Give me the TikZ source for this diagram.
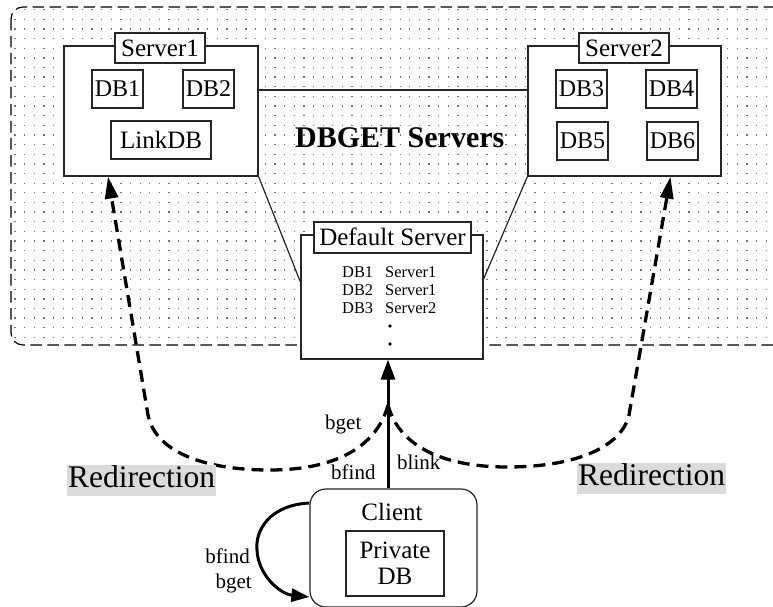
\documentclass[tikz,border=0pt]{standalone}
\usepackage{fontspec}
\setmainfont{Liberation Serif}
\usetikzlibrary{arrows.meta,calc}
\begin{document}
\begin{tikzpicture}[x=1pt,y=-1pt,
  thinline/.style={line width=1.2pt, draw=black!85},
  box/.style={draw=black!85, line width=1.2pt, fill=white, inner sep=0pt,
    text height=16.5pt, text depth=0pt, font=\fontsize{25}{30}\selectfont},
  dbbox/.style={box, text height=15.9pt, font=\fontsize{24}{29}\selectfont},
  lbl/.style={inner sep=0pt, font=\fontsize{21}{24}\selectfont},
  small/.style={inner sep=0pt, font=\fontsize{16.4}{18}\selectfont},
  redir/.style={fill=black!14, inner xsep=1pt, inner ysep=0pt, text height=22pt,
    text depth=9pt, font=\fontsize{31.5}{36}\selectfont},
  dasharrow/.style={line width=3.3pt, dash pattern=on 12pt off 7pt,
    -{Triangle[length=22pt,width=13pt]}},
  solidarrow/.style={line width=3pt, -{Triangle[length=20pt,width=14pt]}},
  looparrow/.style={line width=3pt, -{Triangle[length=18pt,width=13pt]}}
]
\clip (0,0) rectangle (773,607);
% dotted background area
\begin{scope}
  \clip[rounded corners=12pt] (11,7) rectangle (800,345);
  \foreach \r in {0,...,34}
    \draw[black!55, line width=1.3pt, dash pattern=on 1.3pt off 8.33pt]
      (14.35,{9.66+9.64*\r}) -- (780,{9.66+9.64*\r});
\end{scope}
\draw[line width=1.2pt, dash pattern=on 11.5pt off 5.5pt, rounded corners=12pt]
  (11,7) rectangle (800,345);

% Server1
\node[box, minimum width=194pt, minimum height=130pt] (s1) at (161,111) {};
\node[box, minimum width=90pt, minimum height=30pt] (s1lbl) at (160,48) {Server1};
\node[dbbox, minimum width=51pt, minimum height=38pt] (db1) at (117.5,89) {DB1};
\node[dbbox, minimum width=51pt, minimum height=38pt] (db2) at (208.5,89) {DB2};
\node[box, minimum width=100pt, minimum height=38pt] (linkdb) at (161,140) {LinkDB};

% Server2
\node[box, minimum width=193pt, minimum height=130pt] (s2) at (624.5,111) {};
\node[box, minimum width=90pt, minimum height=30pt] (s2lbl) at (624,48) {Server2};
\node[dbbox, minimum width=51pt, minimum height=38pt] (db3) at (581.5,89) {DB3};
\node[dbbox, minimum width=51pt, minimum height=38pt] (db4) at (671.5,89) {DB4};
\node[dbbox, minimum width=51pt, minimum height=38pt] (db5) at (582.5,141) {DB5};
\node[dbbox, minimum width=51pt, minimum height=38pt] (db6) at (672.5,141) {DB6};

\draw[thinline] ([yshift=21pt]s1.east) -- ([yshift=21pt]s2.west);

\node[anchor=base west, inner sep=0pt, font=\bfseries\fontsize{30}{36}\selectfont]
  (title) at (295,147) {DBGET Servers};

% Default server
\node[box, minimum width=182pt, minimum height=124pt] (def) at (392,297) {};
\node[box, minimum width=157pt, minimum height=31pt] (deflbl) at (392.5,237.5) {Default Server};
\draw[thinline] (s1.south east) -- ([yshift=15pt]def.west);
\draw[thinline] (s2.south west) -- ([yshift=18pt]def.east);
\node[small, anchor=base west] (r1a) at (342,277) {DB1};
\node[small, anchor=base west] (r1b) at (385,277) {Server1};
\node[small, anchor=base west] (r2a) at (342,295.5) {DB2};
\node[small, anchor=base west] (r2b) at (385,295.5) {Server1};
\node[small, anchor=base west] (r3a) at (342,313.5) {DB3};
\node[small, anchor=base west] (r3b) at (385,313.5) {Server2};
\fill (390,326) circle (1.8pt);
\fill (390,344) circle (1.8pt);

% Client
\node[draw=black!85, line width=1.2pt, rounded corners=16pt, fill=white,
  minimum width=167pt, minimum height=118pt, inner sep=0pt] (client) at (393.5,548) {};
\node[anchor=base, inner sep=0pt, font=\fontsize{25}{30}\selectfont] (clienttxt) at (392,520) {Client};
\node[box, minimum width=98pt, minimum height=65pt, align=center, text height=42.5pt,
  text depth=0pt, font=\fontsize{25}{26}\selectfont] (priv) at (395,563.5) {Private\\DB};

% arrows
\draw[solidarrow] ([xshift=-5.5pt]client.north) -- ([xshift=-4pt]def.south);
\coordinate (fork) at (388,405);
\draw[dasharrow] (fork) .. controls (376,450) and (330,470) .. (270,470)
  .. controls (200,470) and (155,450) .. (148,415) -- ([xshift=-53pt]s1.south);
\draw[dasharrow] (fork) .. controls (400,450) and (450,467) .. (507,467)
  .. controls (580,467) and (622,445) .. (629,415) -- ([xshift=46pt]s2.south);
\draw[looparrow] ([yshift=45pt]client.west) .. controls (270,505) and (255,530) .. (257,550)
  .. controls (258,575) and (280,594) .. ([yshift=-49pt]client.west);

% labels
\node[lbl, anchor=base west] (lbget) at (325,429) {bget};
\node[lbl, anchor=base west] (lbfind) at (331,479) {bfind};
\node[lbl, anchor=base west] (lblink) at (397,469) {blink};
\node[lbl, anchor=base east] (loopfind) at (250,563) {bfind};
\node[lbl, anchor=base east] (loopget) at (252,588) {bget};
\node[redir, anchor=north west] (redl) at (67,465) {Redirection};
\node[redir, anchor=north west] (redr) at (577,463) {Redirection};
\end{tikzpicture}
\end{document}
